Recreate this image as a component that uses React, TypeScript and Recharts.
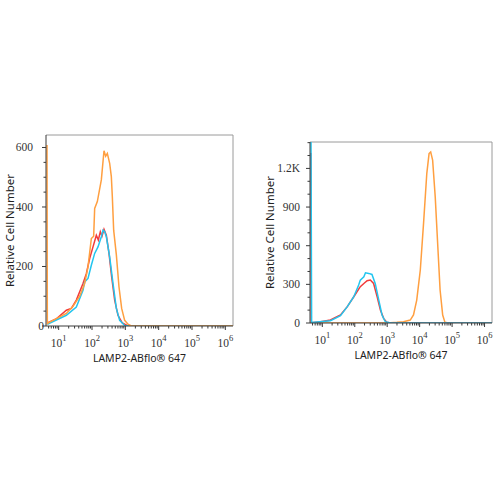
import { LineChart, Line, XAxis, YAxis, ReferenceLine } from 'recharts'

// x = log10(intensity), y = cell count
const X_DOMAIN: [number, number] = [0.62, 6.23]
const DECADES = [1, 2, 3, 4, 5, 6]

const leftRed = [
  [0.66, 10], [0.94, 25], [1.23, 53], [1.38, 59], [1.53, 87], [1.73, 143], [1.83, 176], [1.93, 227],
  [2.03, 266], [2.13, 305], [2.19, 289], [2.25, 317], [2.3, 302], [2.36, 325], [2.43, 305], [2.51, 244],
  [2.59, 165], [2.68, 87], [2.78, 36], [2.91, 10], [3.08, 0], [6.23, 0],
]
const leftCyan = [
  [0.66, 6], [1.23, 36], [1.53, 64], [1.73, 120], [1.78, 148], [1.88, 160], [1.98, 204], [2.08, 244],
  [2.18, 266], [2.28, 300], [2.33, 322], [2.38, 317], [2.43, 300], [2.53, 232], [2.63, 143], [2.73, 59],
  [2.83, 19], [2.98, 2], [3.1, 0], [6.23, 0],
]
const leftOrange = [
  [0.65, 608], [0.66, 8], [0.73, 13], [0.93, 25], [1.23, 42], [1.43, 66], [1.63, 100], [1.78, 143],
  [1.88, 199], [1.98, 294], [2.05, 302], [2.08, 395], [2.16, 418], [2.28, 491], [2.36, 589], [2.41, 571],
  [2.46, 580], [2.53, 547], [2.58, 502], [2.61, 434], [2.65, 322], [2.73, 240], [2.81, 131], [2.89, 59],
  [2.98, 19], [3.08, 6], [3.18, 0], [6.23, 0],
]

const rightRed = [
  [0.65, 1320], [0.66, 2], [0.95, 10], [1.25, 23], [1.56, 62], [1.77, 127], [1.97, 204], [2.17, 282],
  [2.28, 307], [2.38, 328], [2.48, 333], [2.58, 307], [2.69, 204], [2.79, 101], [2.89, 36], [2.99, 5],
  [3.1, 0], [6.23, 0],
]
const rightCyan = [
  [0.65, 1500], [0.67, 3], [1.25, 18], [1.56, 57], [1.77, 127], [1.97, 204], [2.12, 295], [2.17, 333],
  [2.28, 359], [2.33, 390], [2.43, 385], [2.53, 377], [2.63, 307], [2.74, 178], [2.84, 62], [2.94, 10],
  [3.1, 0], [6.23, 0],
]
const rightOrange = [
  [0.64, 0], [3.1, 2], [3.3, 5], [3.5, 10], [3.71, 23], [3.81, 62], [3.91, 178], [4.02, 411], [4.12, 773],
  [4.22, 1160], [4.29, 1315], [4.34, 1328], [4.4, 1264], [4.48, 979], [4.56, 592], [4.63, 256], [4.71, 62],
  [4.78, 5], [4.88, 0], [6.23, 0],
]

const leftYTicks = [0, 50, 100, 150, 200, 250, 300, 350, 400, 450, 500, 550, 600]
const leftYLabels: Record<number, string> = { 0: '0', 200: '200', 400: '400', 600: '600' }
const rightYTicks = [0, 100, 200, 300, 400, 500, 600, 700, 800, 900, 1000, 1100, 1200, 1300, 1400]
const rightYLabels: Record<number, string> = { 0: '0', 300: '300', 600: '600', 900: '900', 1200: '1.2K' }

const RED = '#F23B3B'
const CYAN = '#22C5EF'
const ORANGE = '#FF9F40'
const AXIS = '#3a3a3a'
const TICK_FONT = "'Liberation Serif', serif"
const TITLE_FONT = "'Noto Sans', sans-serif"

// log minor ticks between decades
const xTicks: number[] = []
for (let d = 0; d <= 6; d++) {
  for (let k = 1; k <= 9; k++) {
    const v = d + Math.log10(k)
    if (v >= X_DOMAIN[0] && v <= X_DOMAIN[1]) xTicks.push(v)
  }
}

const toPts = (arr: number[][]) => arr.map(([x, y]) => ({ x, y }))

function LogTick(props: any) {
  const { x, y, payload } = props
  const v = payload.value
  const major = DECADES.some((d) => Math.abs(d - v) < 1e-6)
  return (
    <g>
      <line x1={x} x2={x} y1={y} y2={y + (major ? 4 : 2.5)} stroke={AXIS} />
      {major && (
        <text x={x} y={y + 21} textAnchor="middle" fontFamily={TICK_FONT} fontSize={11.5} fill="#333">
          10<tspan dy={-6} fontSize={8.5}>{Math.round(v)}</tspan>
        </text>
      )}
    </g>
  )
}

function makeYTick(labels: Record<number, string>, gap: number, zeroGap: number) {
  return (props: any) => {
    const { x, y, payload } = props
    const v = payload.value
    const lbl = labels[v]
    return (
      <g>
        <line x1={x} x2={x - (lbl ? 4 : 2.5)} y1={y} y2={y} stroke={AXIS} />
        {lbl && (
          <text x={x - (v === 0 ? zeroGap : gap)} y={y + 4} textAnchor="end" fontFamily={TICK_FONT} fontSize={11.5} fill="#333">
            {lbl}
          </text>
        )}
      </g>
    )
  }
}

type Series = { data: number[][]; color: string }

function Panel(props: {
  left: number
  margin: { top: number; right: number; bottom: number; left: number }
  yAxisWidth: number
  titleOffset: number
  yMax: number
  yTicks: number[]
  yLabels: Record<number, string>
  labelGap: number
  zeroGap: number
  series: Series[]
}) {
  const { left, margin, yAxisWidth, titleOffset, yMax, yTicks, yLabels, labelGap, zeroGap, series } = props
  return (
    <div style={{ position: 'absolute', left, top: 0 }}>
      <LineChart width={250} height={500} margin={margin}>
        <XAxis
          dataKey="x"
          type="number"
          domain={X_DOMAIN}
          ticks={xTicks}
          interval={0}
          tickSize={0}
          tickMargin={0}
          tickLine={false}
          tick={<LogTick />}
          axisLine={{ stroke: AXIS }}
          height={40}
          allowDataOverflow
          label={{
            value: 'LAMP2-ABflo® 647',
            position: 'insideBottom',
            offset: 4,
            style: { fontFamily: TITLE_FONT, fontSize: 10.5, fill: '#222' },
          }}
        />
        <YAxis
          type="number"
          domain={[0, yMax]}
          ticks={yTicks}
          interval={0}
          tickSize={0}
          tickMargin={0}
          tickLine={false}
          tick={makeYTick(yLabels, labelGap, zeroGap)}
          axisLine={{ stroke: AXIS }}
          width={yAxisWidth}
          allowDataOverflow
          label={{
            value: 'Relative Cell Number',
            angle: -90,
            position: 'insideLeft',
            offset: titleOffset,
            style: { textAnchor: 'middle', fontFamily: TITLE_FONT, fontSize: 11.5, fill: '#222' },
          }}
        />
        <ReferenceLine y={yMax} stroke="#9a9a9a" />
        <ReferenceLine x={X_DOMAIN[1]} stroke="#9a9a9a" />
        {series.map((s, i) => (
          <Line
            key={i}
            data={toPts(s.data)}
            dataKey="y"
            type="linear"
            stroke={s.color}
            strokeWidth={1.5}
            dot={false}
            activeDot={false}
            isAnimationActive={false}
          />
        ))}
      </LineChart>
    </div>
  )
}

export default function App() {
  return (
    <div style={{ position: 'absolute', left: 0, top: 0, width: 500, height: 500, background: '#fff' }}>
      <Panel
        left={0}
        margin={{ top: 135, right: 17, bottom: 134, left: 0 }}
        yAxisWidth={46}
        titleOffset={10}
        yMax={642}
        yTicks={leftYTicks}
        yLabels={leftYLabels}
        labelGap={13}
        zeroGap={2}
        series={[
          { data: leftRed, color: RED },
          { data: leftCyan, color: CYAN },
          { data: leftOrange, color: ORANGE },
        ]}
      />
      <Panel
        left={250}
        margin={{ top: 142, right: 8, bottom: 137, left: 0 }}
        yAxisWidth={60}
        titleOffset={20}
        yMax={1405}
        yTicks={rightYTicks}
        yLabels={rightYLabels}
        labelGap={10}
        zeroGap={10}
        series={[
          { data: rightOrange, color: ORANGE },
          { data: rightRed, color: RED },
          { data: rightCyan, color: CYAN },
        ]}
      />
    </div>
  )
}
